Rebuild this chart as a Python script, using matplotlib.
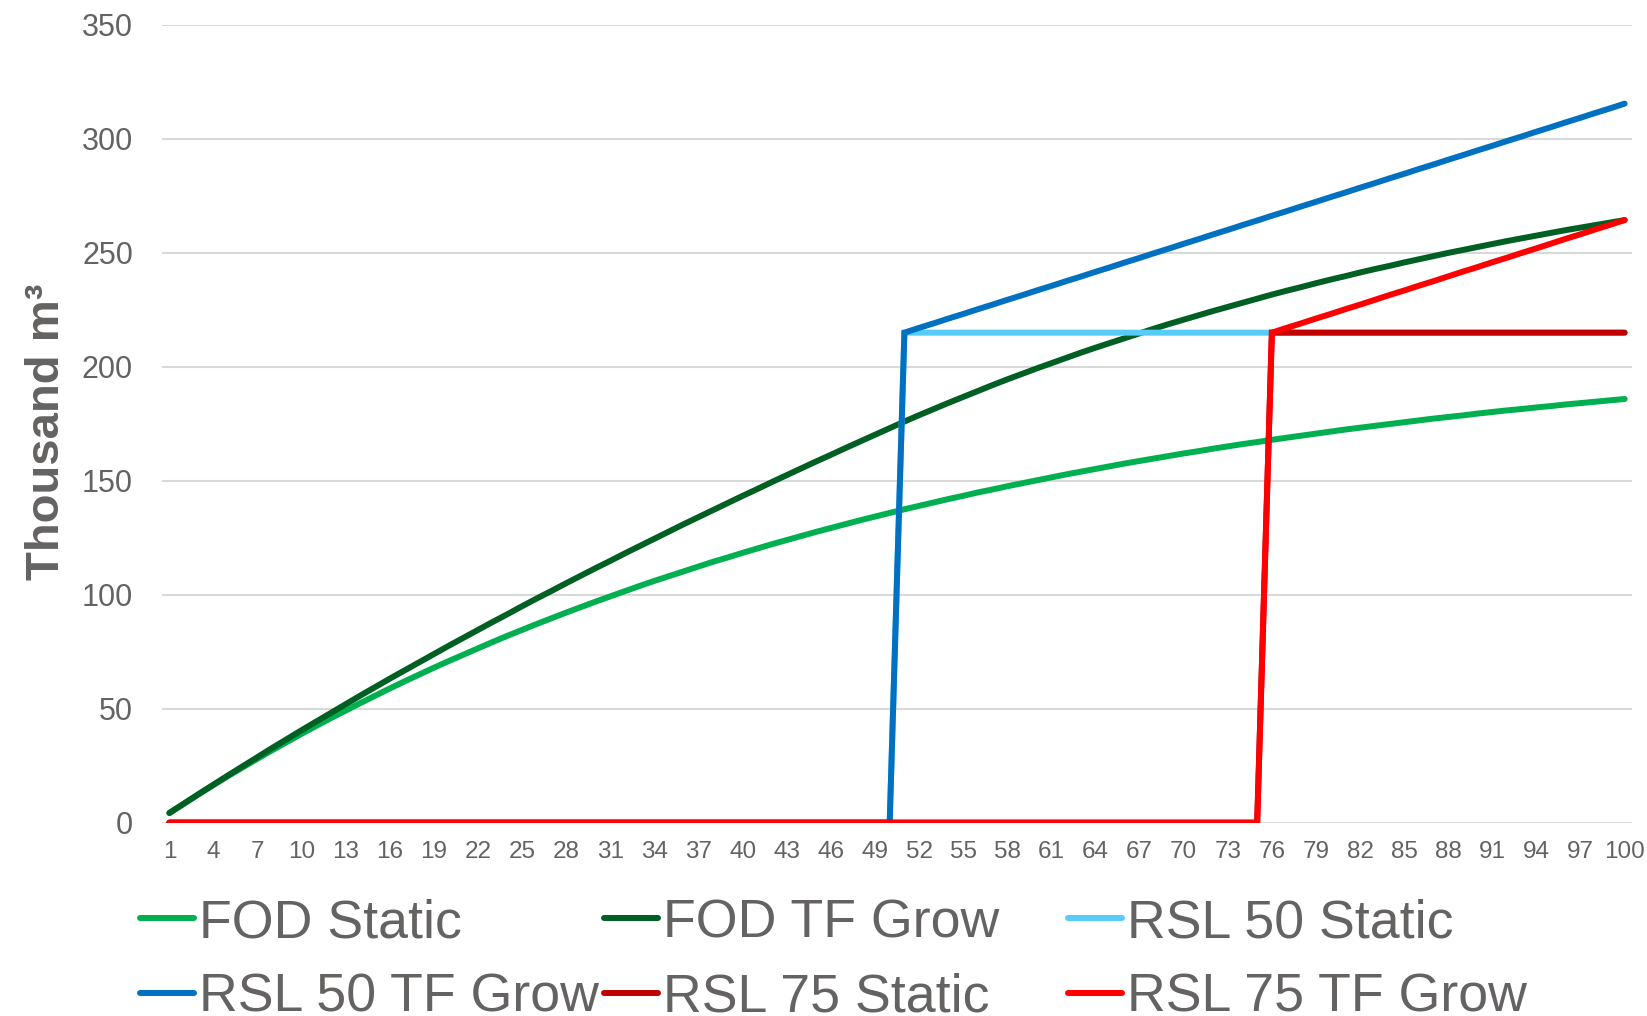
import matplotlib
matplotlib.use("Agg")
import matplotlib.pyplot as plt
from matplotlib.lines import Line2D

plt.rcParams['font.family'] = ['Liberation Sans', 'DejaVu Sans']

# Years 1..100
years = list(range(1, 101))

fod_static = [
    4.3, 8.4, 12.5, 16.5, 20.5, 24.3, 28.1, 31.8, 35.4, 39.0,
    42.5, 45.9, 49.2, 52.5, 55.7, 58.9, 62.0, 65.0, 68.0, 70.9,
    73.7, 76.5, 79.3, 82.0, 84.6, 87.2, 89.7, 92.2, 94.6, 97.0,
    99.3, 101.6, 103.9, 106.1, 108.2, 110.3, 112.4, 114.5, 116.4, 118.4,
    120.3, 122.2, 124.0, 125.8, 127.6, 129.3, 131.0, 132.7, 134.3, 135.9,
    137.5, 139.0, 140.5, 142.0, 143.4, 144.9, 146.2, 147.6, 148.9, 150.2,
    151.5, 152.8, 154.0, 155.2, 156.4, 157.6, 158.7, 159.8, 160.9, 162.0,
    163.0, 164.1, 165.1, 166.1, 167.0, 168.0, 168.9, 169.8, 170.7, 171.6,
    172.5, 173.3, 174.1, 174.9, 175.7, 176.5, 177.3, 178.0, 178.7, 179.5,
    180.2, 180.9, 181.5, 182.2, 182.8, 183.5, 184.1, 184.7, 185.3, 185.9,
]

fod_tf_grow = [
    4.2, 8.4, 12.6, 16.7, 20.8, 24.8, 28.8, 32.8, 36.7, 40.6,
    44.4, 48.2, 52.0, 55.8, 59.5, 63.2, 66.8, 70.4, 74.0, 77.6,
    81.1, 84.6, 88.1, 91.5, 95.0, 98.4, 101.7, 105.1, 108.4, 111.7,
    114.9, 118.2, 121.4, 124.6, 127.8, 131.0, 134.1, 137.2, 140.3, 143.4,
    146.4, 149.5, 152.5, 155.5, 158.5, 161.4, 164.4, 167.3, 170.2, 173.1,
    176.0, 178.8, 181.5, 184.2, 186.8, 189.4, 192.0, 194.5, 196.9, 199.3,
    201.6, 203.9, 206.2, 208.4, 210.5, 212.6, 214.7, 216.8, 218.8, 220.7,
    222.6, 224.5, 226.3, 228.1, 229.9, 231.7, 233.4, 235.0, 236.7, 238.3,
    239.8, 241.4, 242.9, 244.3, 245.8, 247.2, 248.6, 250.0, 251.3, 252.6,
    253.9, 255.2, 256.4, 257.6, 258.8, 260.0, 261.1, 262.2, 263.3, 264.4,
]

rsl50_static = [0.0] * 50 + [215.0] * 50

rsl50_tf_grow = [0.0] * 50 + [
    215.0, 217.1, 219.1, 221.2, 223.2, 225.3, 227.3, 229.4, 231.4, 233.5,
    235.5, 237.6, 239.6, 241.7, 243.7, 245.8, 247.8, 249.9, 251.9, 254.0,
    256.0, 258.1, 260.1, 262.2, 264.2, 266.3, 268.3, 270.4, 272.4, 274.5,
    276.5, 278.6, 280.6, 282.7, 284.7, 286.8, 288.8, 290.9, 292.9, 295.0,
    297.0, 299.1, 301.1, 303.2, 305.2, 307.3, 309.3, 311.4, 313.4, 315.5,
]

rsl75_static = [0.0] * 75 + [215.0] * 25

rsl75_tf_grow = [0.0] * 75 + [
    215.0, 217.1, 219.1, 221.2, 223.2, 225.3, 227.3, 229.4, 231.5, 233.5,
    235.6, 237.6, 239.7, 241.8, 243.8, 245.9, 247.9, 250.0, 252.0, 254.1,
    256.2, 258.2, 260.3, 262.3, 264.4,
]

series_names = ["FOD Static", "FOD TF Grow", "RSL 50 Static",
                "RSL 50 TF Grow", "RSL 75 Static", "RSL 75 TF Grow"]
series_values = [fod_static, fod_tf_grow, rsl50_static,
                 rsl50_tf_grow, rsl75_static, rsl75_tf_grow]
series_colors = ["#00B050", "#005F22", "#55CCFA",
                 "#0070C0", "#C00000", "#FF0000"]

y_ticks = [0, 50, 100, 150, 200, 250, 300, 350]
x_tick_labels = list(range(1, 101, 3))

text_gray = "#656262"
grid_gray = "#D9D9D9"
lw = 4.3

fig = plt.figure(figsize=(16.47, 10.16), dpi=100)
ax = fig.add_axes([0.0984, 0.1903, 0.8925, 0.7851])

for name, vals, col in zip(series_names, series_values, series_colors):
    ax.plot(years, vals, color=col, lw=lw, solid_capstyle='round',
            solid_joinstyle='miter', label=name, zorder=3)

ax.set_xlim(0.5, 100.5)
ax.set_ylim(0, 350)
ax.set_yticks(y_ticks)
ax.set_xticks(x_tick_labels)
ax.set_xticklabels([str(v) for v in x_tick_labels])

ax.grid(axis='y', color=grid_gray, lw=1.5, zorder=0)
ax.grid(axis='x', visible=False)
for sp in ax.spines.values():
    sp.set_visible(False)

ax.tick_params(axis='y', length=0, pad=21, labelsize=22, labelcolor=text_gray)
ax.tick_params(axis='x', length=0, pad=13, labelsize=17.5, labelcolor=text_gray)

ax.set_ylabel("Thousand m³", fontsize=34, fontweight='bold', color=text_gray)
ax.yaxis.set_label_coords(-0.063, 0.49)

# Legend: three columns placed individually
handles = [Line2D([0], [0], color=c, lw=lw, solid_capstyle='round')
           for c in series_colors]
columns = [(0, 3), (1, 4), (2, 5)]
col_x = [0.0850, 0.3667, 0.6485]
for (i, j), x in zip(columns, col_x):
    fig.legend([handles[i], handles[j]], [series_names[i], series_names[j]],
               loc='upper left', bbox_to_anchor=(x, 0.116),
               frameon=False, fontsize=38.7, handlelength=1.0,
               handletextpad=0.1, borderpad=0, borderaxespad=0,
               labelspacing=0.46, labelcolor=text_gray)

fig.savefig("out.png", dpi=100)
